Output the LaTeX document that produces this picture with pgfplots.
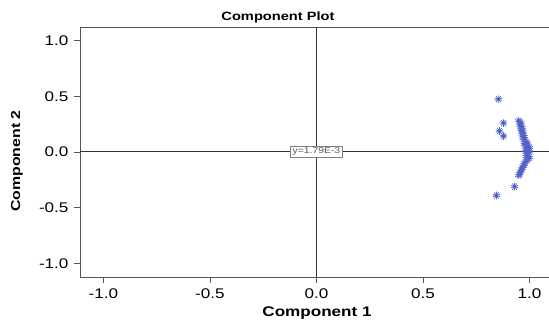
\documentclass[border=0pt]{standalone}
\usepackage{pgfplots}
\pgfplotsset{compat=1.18}
\usetikzlibrary{plotmarks}
\usepackage{fontspec}
\setmainfont{Liberation Sans}[FakeStretch=1.22]
\definecolor{ptblue}{HTML}{5062C8}
\definecolor{ptfill}{HTML}{DDE1F6}
\definecolor{axgray}{HTML}{555555}
\begin{document}
\begin{tikzpicture}[x=1pt,y=1pt]
\clip (0,0) rectangle (549pt,323pt);
\begin{axis}[
  at={(80pt,46pt)}, anchor=south west,
  scale only axis, width=556pt, height=250pt,
  xmin=-1.11, xmax=1.5, ymin=-1.12, ymax=1.12,
  axis line style={axgray, line width=0.6pt},
  tick style={axgray, line width=0.6pt},
  tick align=outside, major tick length=6pt,
  xtick pos=left, ytick pos=left,
  xtick={-1,-0.5,0,0.5,1}, ytick={-1,-0.5,0,0.5,1},
  xticklabel style={font=\fontsize{14}{16}\selectfont, yshift=-2pt},
  yticklabel style={font=\fontsize{14}{16}\selectfont, xshift=-2pt},
  /pgf/number format/assume math mode=true,
  /pgf/number format/.cd, fixed, fixed zerofill, precision=1,
  /tikz/.cd,
  clip=false,
]
\draw[black!80, line width=0.6pt] (axis cs:0,-1.12) -- (axis cs:0,1.12);
\draw[black!80, line width=0.6pt] (axis cs:-1.11,0.00179) -- (axis cs:1.5,0.00179);
\node[draw=gray, fill=white, inner sep=2pt, font=\fontsize{8.5}{9}\selectfont, text=gray!70!black] at (axis cs:0,0.00179) {y=1.79E-3};
\addplot[only marks, mark=10-pointed star, mark size=3.8pt,
  mark options={draw=ptblue, fill=ptfill, line width=0.7pt}]
coordinates {
(0.854,0.473) (0.878,0.259) (0.859,0.188) (0.878,0.143) (0.93,-0.31) (0.845,-0.39)
(0.95,0.28) (0.96,0.26) (0.955,0.24) (0.965,0.22) (0.96,0.20) (0.97,0.18)
(0.965,0.16) (0.975,0.14) (0.97,0.12) (0.98,0.10) (0.99,0.08) (0.975,0.07)
(0.985,0.05) (1.0,0.04) (0.99,0.02) (0.98,0.01) (1.0,0.0) (0.99,-0.02)
(0.985,-0.04) (1.0,-0.05) (0.99,-0.07) (0.98,-0.09) (0.975,-0.11) (0.97,-0.13)
(0.965,-0.15) (0.96,-0.17) (0.955,-0.19) (0.95,-0.21)
};
\end{axis}
\node[font=\bfseries\fontsize{12}{14}\selectfont] at (278pt,306pt) {Component Plot};
\node[font=\bfseries\fontsize{14}{16}\selectfont] at (317pt,10pt) {Component 1};
\node[font=\bfseries\fontsize{13}{15}\selectfont, rotate=90] at (17pt,162pt) {Component 2};
\end{tikzpicture}
\end{document}
